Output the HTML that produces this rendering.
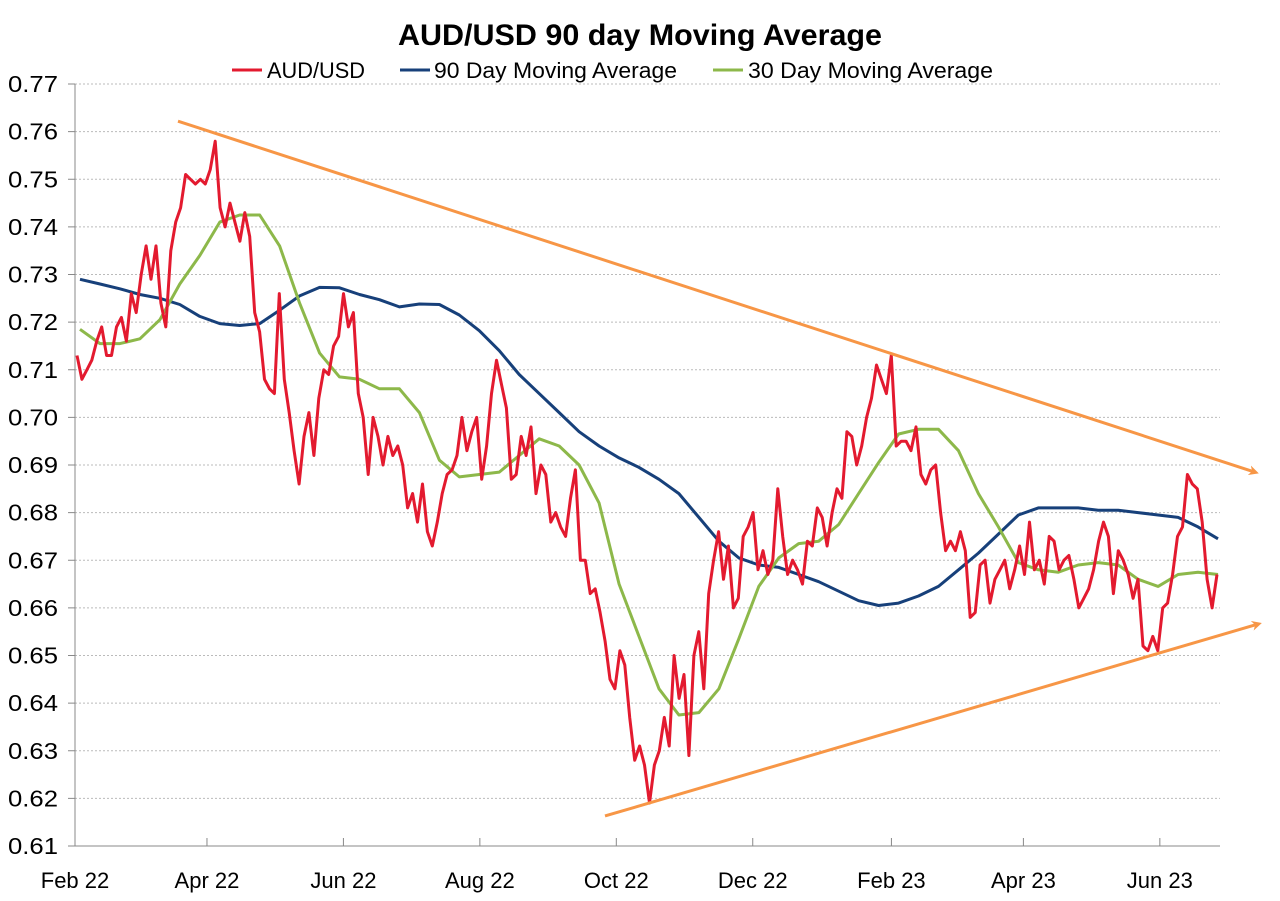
<!DOCTYPE html>
<html><head><meta charset="utf-8"><style>
body{margin:0;background:#fff;}
svg text{font-family:"Liberation Sans",sans-serif;}
</style></head><body>
<svg id="chart" width="1280" height="896" xmlns="http://www.w3.org/2000/svg">
<defs>
<marker id="arr" markerWidth="10" markerHeight="10" refX="6" refY="5" orient="auto" markerUnits="userSpaceOnUse"><path d="M0,0 L10,5 L0,10 L3,5 Z" fill="#f79646"/></marker>
</defs>
<text x="640" y="45" text-anchor="middle" font-size="30" font-weight="bold" fill="#000" textLength="484" lengthAdjust="spacingAndGlyphs">AUD/USD 90 day Moving Average</text>
<g>
<g><line x1="232" y1="70" x2="262" y2="70" stroke="#e31a2f" stroke-width="3"/><text x="267" y="78" font-size="22" textLength="98" lengthAdjust="spacingAndGlyphs">AUD/USD</text></g>
<g><line x1="400" y1="70" x2="430" y2="70" stroke="#17407a" stroke-width="3"/><text x="434" y="78" font-size="22" textLength="243" lengthAdjust="spacingAndGlyphs">90 Day Moving Average</text></g>
<g><line x1="713" y1="70" x2="743" y2="70" stroke="#8db84a" stroke-width="3"/><text x="748" y="78" font-size="22" textLength="245" lengthAdjust="spacingAndGlyphs">30 Day Moving Average</text></g>
</g>
<g id="grid"></g><g id="axes"></g><g id="series"></g>
</svg>
<script>
const yTicks=[0.61,0.62,0.63,0.64,0.65,0.66,0.67,0.68,0.69,0.70,0.71,0.72,0.73,0.74,0.75,0.76,0.77];
const xLabels=["Feb 22","Apr 22","Jun 22","Aug 22","Oct 22","Dec 22","Feb 23","Apr 23","Jun 23"];
const xLabelDays=[0,59,120,181,242,303,365,424,485];
const audUsd=[.713,.708,.710,.712,.716,.719,.713,.713,.719,.721,.716,.726,.722,.730,.736,.729,.736,.724,.719,.735,.741,.744,.751,.750,.749,.750,.749,.752,.758,.744,.740,.745,.741,.737,.743,.738,.722,.718,.708,.706,.705,.726,.708,
.701,.693,.686,.696,.701,.692,.704,.710,.709,.715,.717,.726,.719,.722,.705,.700,.688,.700,.696,.690,.696,.692,.694,.690,.681,.684,.678,.686,.676,.673,.678,.684,.688,.689,.692,.700,.693,.697,.700,.687,.694,.705,.712,
.707,.702,.687,.688,.696,.692,.698,.684,.690,.688,.678,.680,.677,.675,.683,.689,.670,.670,.663,.664,.659,.653,.645,.643,.651,.648,.637,.628,.631,.627,.619,.627,.630,.637,.631,.650,.641,.646,.629,.650,.655,.643,.663,.670,.676,.666,.673,.660,.662,.675,.677,.680,.668,.672,.667,.670,.685,.675,.667,.670,.668,.665,.674,.673,.681,.679,.673,.680,.685,.683,.697,.696,.690,.694,.700,.704,.711,.708,.705,.713,.694,.695,.695,.693,.698,.688,.686,.689,.690,.680,.672,.674,.672,.676,.672,.658,.659,.669,.670,.661,.666,.668,.670,.664,.668,.673,.667,.678,.668,.670,.665,.675,.674,.668,.670,.671,.666,.660,.662,.664,.668,.674,.678,.675,.663,.672,.670,.667,.662,.666,.652,.651,.654,.651,.660,.661,.667,.675,.677,.688,.686,.685,.678,.666,.660,.667];
const ma90=[.729,.728,.727,.7258,.725,.7237,.7212,.7197,.7193,.7197,.7225,.7255,.7273,.7272,.7258,.7247,.7232,.7238,.7237,.7215,.7182,.714,.709,.705,.701,.697,.694,.6915,.6895,.687,.684,.679,.674,.6705,.669,.6685,.667,.6655,.6635,.6615,.6605,.661,.6625,.6645,.668,.6715,.6755,.6795,.681,.681,.681,.6805,.6805,.680,.6795,.679,.677,.6745];
const ma30=[.7185,.7155,.7155,.7165,.7205,.728,.734,.741,.7425,.7425,.736,.724,.7135,.7085,.708,.706,.706,.701,.691,.6875,.688,.6885,.692,.6955,.694,.690,.682,.665,.654,.643,.6375,.638,.643,.6535,.6645,.6705,.6735,.674,.6775,.684,.6905,.6965,.6975,.6975,.693,.684,.677,.6695,.668,.6675,.669,.6695,.669,.666,.6645,.667,.6675,.667];
const trendTop=[.7622,.6885];
const trendBottom=[.6163,.6566];

const NS="http://www.w3.org/2000/svg";
const X0=75,X1=1218,Y0=846,Y1=84,VMIN=0.61,VMAX=0.77,DAYS=511;
const y=v=>Y0-(v-VMIN)/(VMAX-VMIN)*(Y0-Y1);
const xd=d=>X0+d*(X1-X0)/DAYS;
const xf=(i,n,a,b)=>a+i*(b-a)/(n-1);
function mk(tag,attrs,parent){const e=document.createElementNS(NS,tag);for(const k in attrs)e.setAttribute(k,attrs[k]);parent.appendChild(e);return e;}
const grid=document.getElementById('grid'),axes=document.getElementById('axes'),ser=document.getElementById('series');
yTicks.forEach(v=>{
 if(v>VMIN+1e-9){const g=mk('line',{x1:X0,x2:1220,y1:y(v),y2:y(v),stroke:'#bbb','stroke-width':1,'stroke-dasharray':'2,2'},grid);
 
 }
 const t=mk('text',{x:58,y:y(v)+8,'text-anchor':'end','font-size':23,textLength:50,lengthAdjust:'spacingAndGlyphs'},axes);t.textContent=v.toFixed(2);
 
 
 mk('line',{x1:68,x2:X0,y1:y(v),y2:y(v),stroke:'#888'},axes);
});
mk('line',{x1:X0,x2:X0,y1:Y1,y2:Y0,stroke:'#888'},axes);
mk('line',{x1:X0,x2:1220,y1:Y0,y2:Y0,stroke:'#888'},axes);
xLabels.forEach((l,i)=>{const x=xd(xLabelDays[i]);
 mk('line',{x1:x,x2:x,y1:Y0-8,y2:Y0,stroke:'#888'},axes);
 const t=mk('text',{x:x,y:888,'text-anchor':'middle','font-size':22},axes);t.textContent=l;
 
 
});
function line(arr,a,b,color,name){
 const pts=arr.map((v,i)=>xf(i,arr.length,a,b).toFixed(1)+','+y(v).toFixed(1)).join(' ');
 const p=mk('polyline',{points:pts,fill:'none',stroke:color,'stroke-width':3,'stroke-linejoin':'round'},ser);
 
 
}
line(ma90,80,1218,'#17407a','ma90-line');
line(ma30,80,1218,'#8db84a','ma30-line');
line(audUsd,77,1217,'#e31a2f','aud-usd-line');
const t1=mk('line',{x1:178,y1:y(trendTop[0]),x2:1255,y2:y(trendTop[1]),stroke:'#f79646','stroke-width':3,'marker-end':'url(#arr)'},ser);


const t2=mk('line',{x1:605,y1:y(trendBottom[0]),x2:1258,y2:y(trendBottom[1]),stroke:'#f79646','stroke-width':3,'marker-end':'url(#arr)'},ser);


</script>
</body></html>
